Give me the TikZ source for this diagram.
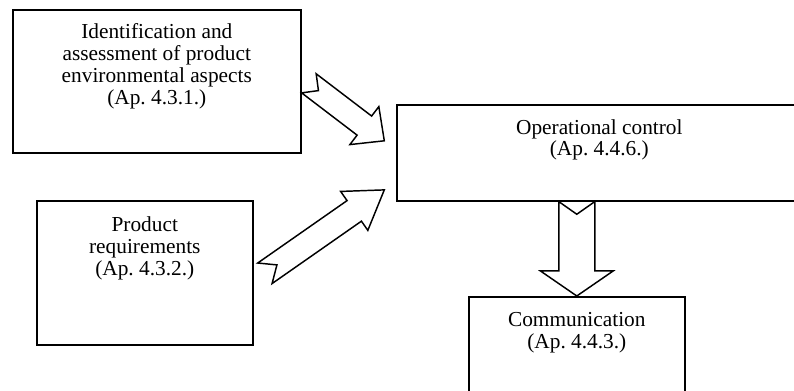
\documentclass[tikz,border=0pt]{standalone}
\usepackage{fontspec}
\setmainfont{Liberation Serif}
\usetikzlibrary{calc}
\frenchspacing
\def\blockarrow[#1](#2)(#3)(#4:#5:#6:#7){%
	\coordinate (neck) at ($(#3)!#6!(#2)$);
	\draw[#1] ($(#2)!#4!90:(#3)$) -- ($(#2)!#7!(#3)$) -- ($(#2)!#4!-90:(#3)$)
		-- ($(neck)!#4!-90:(#3)$) -- ($(neck)!#5!-90:(#3)$) -- (#3)
		-- ($(neck)!#5!90:(#3)$) -- ($(neck)!#4!90:(#3)$) -- cycle;}

\begin{document}
\begin{tikzpicture}[x=0.75pt, y=-0.75pt,
	box/.style={draw, line width=1.2pt, rectangle, inner sep=0pt, anchor=north west,
		align=center, font=\fontsize{16pt}{16.4pt}\selectfont},
	fat/.style={line width=1.1pt, fill=white, line join=miter}]
			%%%%% START %%%%%
			\useasboundingbox (0, 0) rectangle (794, 391);
			\clip (0, 0) rectangle (794, 391);
			
			\node[box, minimum width=216pt, text height=71pt, text depth=36.3pt] (ident) at (12, 9)
				{Identification and\\assessment of product\\environmental aspects\\(Ap. 4.3.1.)};
			\node[box, minimum width=303.8pt, text height=38.4pt, text depth=33.6pt] (opctl) at (396, 104)
				{Operational control\\(Ap. 4.4.6.)};
			\node[box, minimum width=162pt, text height=56.1pt, text depth=51.9pt] (prodreq) at (36, 200)
				{Product\\requirements\\(Ap. 4.3.2.)};
			\node[box, minimum width=162pt, text height=38.9pt, text depth=43.6pt] (commun) at (468, 296)
				{Communication\\(Ap. 4.4.3.)};
			
			\coordinate (a1s) at ($(ident.east)+(7.3, 2)$);
			\coordinate (a1e) at ($(opctl.west)+(-11.7, -12)$);
			\coordinate (a2s) at ($(prodreq.east)+(11.3, 0.5)$);
			\coordinate (a2e) at ($(opctl.south west)+(-11.7, -11.7)$);
			\coordinate (a3s) at (commun.north |- opctl.south);
			
			\blockarrow[fat](a1s)(a1e)(9pt:17.9pt:18.8pt:9pt)
			\blockarrow[fat](a2s)(a2e)(9.4pt:17.8pt:27.5pt:11pt)
			\blockarrow[fat](a3s)(commun.north)(13.5pt:27.3pt:18.8pt:9.5pt)
			
			%%%%% END %%%%%
\end{tikzpicture}
\end{document}
